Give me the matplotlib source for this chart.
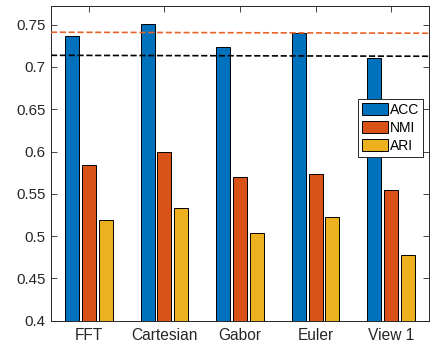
import numpy as np
import matplotlib
matplotlib.use('Agg')
import matplotlib.pyplot as plt

# clustering scores per feature type
methods = ['FFT', 'Cartesian', 'Gabor', 'Euler', 'View 1']
acc = [0.737, 0.751, 0.7236, 0.7405, 0.711]
nmi = [0.584, 0.599, 0.5697, 0.574, 0.554]
ari = [0.5186, 0.5331, 0.5036, 0.5222, 0.4772]
series_names = ['ACC', 'NMI', 'ARI']

# reference levels (start, end) drawn as dashed lines
ref_orange = [0.741, 0.7398]
ref_black = [0.7137, 0.7126]

colors = ['#0072BD', '#D95319', '#EDB120']
axis_gray = '#262626'

plt.rcParams['font.family'] = ['Liberation Sans', 'DejaVu Sans']

fig = plt.figure(figsize=(4.32, 3.46), dpi=100)
ax = fig.add_axes([51 / 432, 25.3 / 346, 378 / 432, 314.7 / 346])

x = np.arange(1, len(methods) + 1)
width = 0.185
offset = 0.222
for i, (vals, name) in enumerate(zip([acc, nmi, ari], series_names)):
    ax.bar(x + (i - 1) * offset, vals, width, color=colors[i],
           edgecolor='black', linewidth=0.7, label=name, zorder=2)

xl = [0.5, 5.5]
ax.plot(xl, ref_orange, '--', color='#E8642A', linewidth=1.2, zorder=3)
ax.plot(xl, ref_black, '--', color='black', linewidth=1.2, zorder=3)

ax.set_xlim(xl)
ax.set_ylim(0.4, 0.772)
ax.set_xticks(x)
ax.set_xticklabels(methods)
ax.set_yticks(np.arange(0.4, 0.751, 0.05))
ax.set_yticklabels(['0.4', '0.45', '0.5', '0.55', '0.6', '0.65', '0.7', '0.75'])

ax.tick_params(direction='in', length=4, width=0.6, colors=axis_gray,
               top=True, right=True, pad=4)
ax.tick_params(axis='y', labelsize=10.8)
ax.tick_params(axis='x', labelsize=11.2, pad=5)
for sp in ax.spines.values():
    sp.set_color(axis_gray)
    sp.set_linewidth(0.7)

leg = ax.legend(loc='upper left', bbox_to_anchor=(0.813, 0.7035),
                fontsize=10, handlelength=1.9, handleheight=0.95,
                handletextpad=0.15, labelspacing=0.3, borderpad=0.25,
                borderaxespad=0, fancybox=False, framealpha=1)
leg.get_frame().set_edgecolor(axis_gray)
leg.get_frame().set_linewidth(0.7)

fig.savefig('out.png', dpi=100)
